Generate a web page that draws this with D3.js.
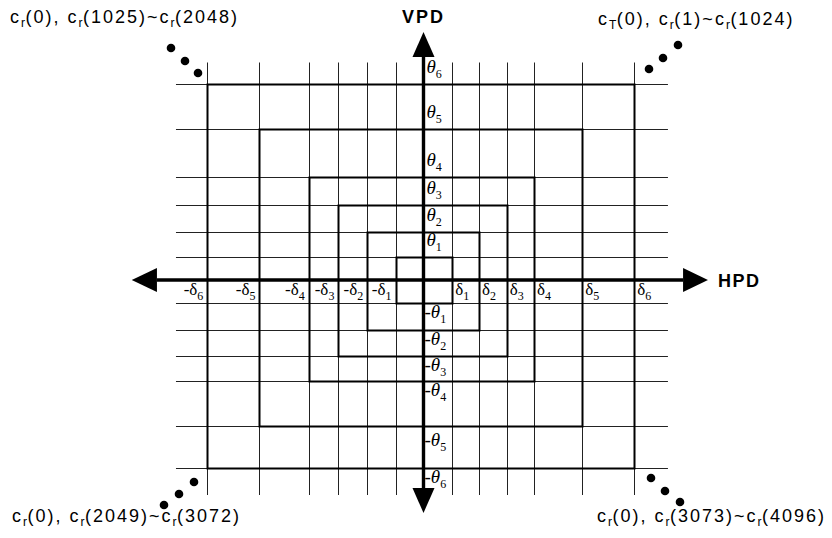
<!DOCTYPE html>
<html>
<head>
<meta charset="utf-8">
<script src="https://cdn.jsdelivr.net/npm/d3@7"></script>
<style>
  html, body { margin: 0; padding: 0; background: #fff; }
  svg { display: block; }
</style>
</head>
<body>
<svg id="chart" width="832" height="538"></svg>
<script>
/* levels, in grid units (distance from the axes) */
const deltaPos = [1.03, 1.98, 2.97, 3.95, 5.67, 7.53]   // +δ1..+δ6 (right of VPD)
const deltaNeg = [1.0, 2.01, 3.04, 4.1, 5.86, 7.72]     // -δ1..-δ6 (left of VPD)
const thetaPos = [0.92, 1.92, 3.0, 4.12, 6.04, 7.84]    // +θ1..+θ6 (above HPD)
const thetaNeg = [0.92, 2.0, 3.04, 4.04, 5.84, 7.52]    // -θ1..-θ6 (below HPD)
const levelNames = ['1', '2', '3', '4', '5', '6']

const cornerLabels = [
  {pos: 'tl', parts: [['c','r'], '(0), ', ['c','r'], '(1025)~', ['c','r'], '(2048)']},
  {pos: 'tr', parts: [['c','T'], '(0), ', ['c','r'], '(1)~', ['c','r'], '(1024)']},
  {pos: 'bl', parts: [['c','r'], '(0), ', ['c','r'], '(2049)~', ['c','r'], '(3072)']},
  {pos: 'br', parts: [['c','r'], '(0), ', ['c','r'], '(3073)~', ['c','r'], '(4096)']}
]
const axisNames = ['HPD', 'VPD']

const svg = d3.select('#chart')

/* scales : 1 unit = 28px horizontally, 25px vertically */
const cx = 423.5, cy = 280
const x = d3.scaleLinear().domain([-8, 8]).range([cx - 8*28, cx + 8*28])
const y = d3.scaleLinear().domain([-8, 8]).range([cy + 8*25, cy - 8*25])
const crisp = v => Math.round(v) + 0.5

const gridX = deltaNeg.map(d=>-d).concat(deltaPos)
const gridY = thetaNeg.map(d=>-d).concat(thetaPos)

/* grid extents */
const gx0 = x(-8.84), gx1 = x(8.73)
const gy0 = y(8.7), gy1 = y(-8.6)

/* 画网格 */
svg.append('g')
  .selectAll('line')
  .data(gridX)
  .join('line')
  .attr('x1', d=>crisp(x(d))).attr('x2', d=>crisp(x(d)))
  .attr('y1', gy0).attr('y2', gy1)
  .attr('stroke', '#222')
  .attr('stroke-width', 1)

svg.append('g')
  .selectAll('line')
  .data(gridY)
  .join('line')
  .attr('x1', gx0).attr('x2', gx1)
  .attr('y1', d=>crisp(y(d))).attr('y2', d=>crisp(y(d)))
  .attr('stroke', '#222')
  .attr('stroke-width', 1)

/* nested rectangles */
svg.append('g')
  .selectAll('rect')
  .data(d3.range(6))
  .join('rect')
  .attr('x', i=>crisp(x(-deltaNeg[i])))
  .attr('y', i=>crisp(y(thetaPos[i])))
  .attr('width', i=>crisp(x(deltaPos[i])) - crisp(x(-deltaNeg[i])))
  .attr('height', i=>crisp(y(-thetaNeg[i])) - crisp(y(thetaPos[i])))
  .attr('fill', 'none')
  .attr('stroke', '#000')
  .attr('stroke-width', 2)

/* axes with arrow heads */
const hL = -9.52, hR = 9.27, hTipL = -10.42, hTipR = 10.16
const vT = 8.92, vB = -8.32, vTipT = 9.92, vTipB = -9.32

svg.append('line')
  .attr('x1', x(hL)).attr('x2', x(hR))
  .attr('y1', y(0)).attr('y2', y(0))
  .attr('stroke', '#000').attr('stroke-width', 3.4)

svg.append('line')
  .attr('x1', x(0)).attr('x2', x(0))
  .attr('y1', y(vT)).attr('y2', y(vB))
  .attr('stroke', '#000').attr('stroke-width', 3.4)

const heads = [
  [[x(hTipR), y(0)], [x(hR), y(0)-12], [x(hR), y(0)+12]],
  [[x(hTipL), y(0)], [x(hL), y(0)-12], [x(hL), y(0)+12]],
  [[x(0), y(vTipT)], [x(0)-11, y(vT)], [x(0)+11, y(vT)]],
  [[x(0), y(vTipB)], [x(0)-11, y(vB)], [x(0)+11, y(vB)]]
]
svg.append('g')
  .selectAll('path')
  .data(heads)
  .join('path')
  .attr('d', d=>'M' + d.join('L') + 'Z')
  .attr('fill', '#000')

/* HPD / VPD */
svg.append('text')
  .attr('x', x(hTipR) + 10).attr('y', y(0) + 7)
  .style('font-family', '"Liberation Sans", Arial, sans-serif')
  .style('font-size', '18px').style('font-weight', 'bold')
  .style('letter-spacing', '1.5px')
  .text(axisNames[0])

svg.append('text')
  .attr('x', x(0)).attr('y', 23)
  .attr('text-anchor', 'middle')
  .style('font-family', '"Liberation Sans", Arial, sans-serif')
  .style('font-size', '18px').style('font-weight', 'bold')
  .style('letter-spacing', '2px')
  .text(axisNames[1])

/* greek labels */
const greek = svg.append('g')
  .style('font-family', '"Liberation Serif", "DejaVu Serif", serif')

const addGreek = (px, py, anchor, prefix, letter, sub, size, italic) => {
  const t = greek.append('text')
    .attr('x', px).attr('y', py)
    .attr('text-anchor', anchor)
    .style('font-size', size + 'px')
  t.append('tspan').style('font-style', italic ? 'italic' : 'normal').text(prefix + letter)
  t.append('tspan')
    .attr('dy', 5)
    .style('font-size', '12px')
    .text(sub)
}

deltaPos.forEach((d,i)=>addGreek(x(d)+3, y(0)+15, 'start', '', 'δ', levelNames[i], 17, false))
deltaNeg.forEach((d,i)=>addGreek(x(-d)-4, y(0)+15, 'end', '-', 'δ', levelNames[i], 17, false))
thetaPos.forEach((d,i)=>addGreek(x(0)+3, y(d)-11, 'start', '', 'θ', levelNames[i], 19, true))
thetaNeg.forEach((d,i)=>addGreek(x(0)+1, y(-d)+(i==4?20:15), 'start', '-', 'θ', levelNames[i], 19, true))

/* dots in the corners */
const dotData = [
  [171,48],[185,61],[198,73],
  [678,45],[663,58],[649,69],
  [194,482],[179,494],[164,505],
  [651,478],[665,491],[680,502]
]
svg.append('g')
  .selectAll('circle')
  .data(dotData)
  .join('circle')
  .attr('cx', d=>d[0]).attr('cy', d=>d[1])
  .attr('r', 4.3)
  .attr('fill', '#000')

/* corner labels */
const cornerPos = {tl: [10, 23], tr: [598, 25], bl: [12, 522], br: [597, 522]}
cornerLabels.forEach(c=>{
  const t = svg.append('text')
    .attr('x', cornerPos[c.pos][0]).attr('y', cornerPos[c.pos][1])
    .style('font-family', '"Liberation Sans", Arial, sans-serif')
    .style('font-size', '18px')
    .style('letter-spacing', '2px')
  let shift = 0
  c.parts.forEach(p=>{
    if (Array.isArray(p)) {
      t.append('tspan').attr('dy', -shift).text(p[0])
      t.append('tspan').attr('dy', 4).style('font-size', '12px').style('letter-spacing', '0.5px').text(p[1])
      shift = 4
    } else {
      t.append('tspan').attr('dy', -shift).text(p)
      shift = 0
    }
  })
})
</script>
</body>
</html>
